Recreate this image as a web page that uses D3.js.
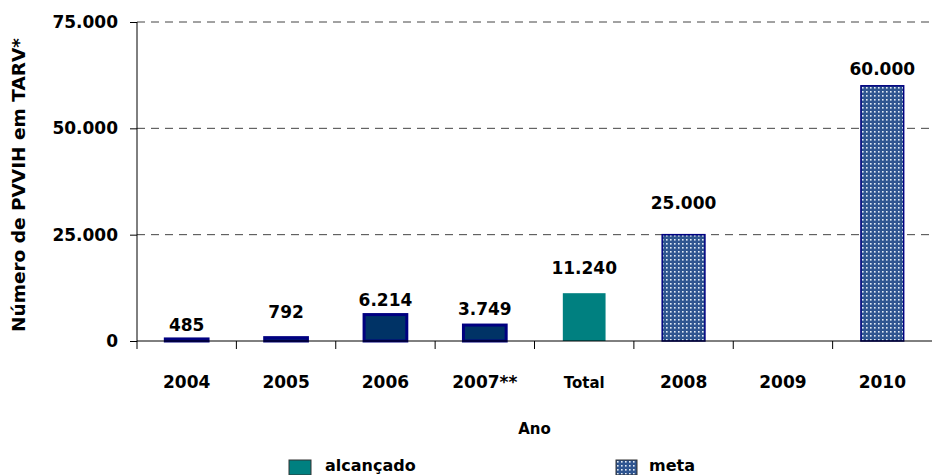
<!DOCTYPE html>
<html>
<head>
<meta charset="utf-8">
<script src="https://cdn.jsdelivr.net/npm/d3@7"></script>
<style>
body{margin:0;background:#fff;}
text{font-family:"Comic Sans MS","DejaVu Sans",sans-serif;font-weight:bold;fill:#000;}
</style>
</head>
<body>
<svg id="chart" width="934" height="475"></svg>
<script>
// dados
var categorias = ["2004","2005","2006","2007**","Total","2008","2009","2010"];
var valores    = [485, 792, 6214, 3749, 11240, 25000, null, 60000];
var tipo       = ["ano","ano","ano","ano","alcançado","meta","meta","meta"];
var rotulos    = ["485","792","6.214","3.749","11.240","25.000","","60.000"];
var yTicks     = [0, 25000, 50000, 75000];
var yTickLabels= ["0","25.000","50.000","75.000"];
var legenda    = ["alcançado","meta"];
// distancia do rotulo ate o topo da barra (como no excel)
var labelGap   = [8, 20, 9, 10, 19, 26, 0, 11];

var svg = d3.select("#chart");
var margin = {left:137, right:2, top:22, bottom:134};
var width = 934 - margin.left - margin.right;
var height = 475 - margin.top - margin.bottom;

var defs = svg.append("defs");
var pat = defs.append("pattern")
	.attr("id","pontos")
	.attr("patternUnits","userSpaceOnUse")
	.attr("width",4).attr("height",4);
pat.append("rect").attr("width",4).attr("height",4).attr("fill","#2f5590");
pat.append("rect").attr("x",1).attr("y",1).attr("width",1.6).attr("height",1.6).attr("fill","#e4ecf5");

var g = svg.append("g").attr("transform","translate("+margin.left+","+margin.top+")");

var x = d3.scaleBand().domain(categorias).range([0,width]).paddingInner(0.57).paddingOuter(0.285);
var xb = d3.scaleBand().domain(categorias).range([0,width]);
var y = d3.scaleLinear().domain([0,75000]).range([height,0]);

// grade tracejada
g.selectAll(".grid")
	.data(yTicks.filter(d=>d>0))
	.enter()
	.append("line")
	.attr("class","grid")
	.attr("x1",0).attr("x2",width-2)
	.attr("y1",d=>y(d)).attr("y2",d=>y(d))
	.style("stroke","#444")
	.style("stroke-dasharray","8,6")
	.style("stroke-width",1);

// eixo y
var yAxis = d3.axisLeft(y).tickValues(yTicks).tickSize(7).tickPadding(12)
	.tickFormat((d,i)=>yTickLabels[i]);
var gy = g.append("g").call(yAxis);
gy.select(".domain").attr("d","M0,"+(height+8)+"V0").style("stroke","#000");
gy.selectAll(".tick line").style("stroke","#000");
gy.selectAll(".tick text").style("font-size","17px").style("font-family",null);

// barras
function corBarra(i){
	if(tipo[i]=="alcançado") return "#008080";
	if(tipo[i]=="meta") return "url(#pontos)";
	return "#003366";
}
g.selectAll(".bar")
	.data(valores)
	.enter()
	.filter(d=>d!=null)
	.append("rect")
	.attr("class","bar")
	.attr("x",(d,i)=>x(categorias[valores.indexOf(d)]))
	.attr("y",d=>y(d))
	.attr("width",x.bandwidth())
	.attr("height",d=>height-y(d))
	.style("fill",d=>corBarra(valores.indexOf(d)))
	.style("stroke",d=>{
		let t = tipo[valores.indexOf(d)];
		return t=="alcançado" ? "none" : "#000080";
	})
	.style("stroke-width",d=>tipo[valores.indexOf(d)]=="ano" ? 3 : 1.5);

// rotulos de dados
g.selectAll(".rotulo")
	.data(valores)
	.enter()
	.filter(d=>d!=null)
	.append("text")
	.attr("class","rotulo")
	.attr("x",d=>x(categorias[valores.indexOf(d)])+x.bandwidth()/2)
	.attr("y",d=>y(d)-labelGap[valores.indexOf(d)])
	.attr("text-anchor","middle")
	.style("font-size","17px")
	.text(d=>rotulos[valores.indexOf(d)]);

// eixo x
var gx = g.append("g").attr("transform","translate(0,"+height+")");
gx.append("line").attr("x1",0).attr("x2",width).style("stroke","#000");
gx.selectAll(".tk")
	.data(categorias.slice(1))
	.enter()
	.append("line")
	.attr("x1",d=>xb(d)).attr("x2",d=>xb(d))
	.attr("y1",0).attr("y2",8)
	.style("stroke","#000");
gx.selectAll(".cat")
	.data(categorias)
	.enter()
	.append("text")
	.attr("x",d=>xb(d)+xb.bandwidth()/2)
	.attr("y",47)
	.attr("text-anchor","middle")
	.style("font-size",d=>d=="Total"?"15px":"17px")
	.text(d=>d);

// titulos
svg.append("text")
	.attr("x",margin.left+width/2)
	.attr("y",434)
	.attr("text-anchor","middle")
	.style("font-size","15px")
	.text("Ano");
svg.append("text")
	.attr("transform","translate(25,185) rotate(-90)")
	.attr("text-anchor","middle")
	.style("font-size","18.5px")
	.text("Número de PVVIH em TARV*");

// legenda
var legX = [289, 616];
var leg = svg.selectAll(".leg")
	.data(legenda)
	.enter()
	.append("g")
	.attr("transform",(d,i)=>"translate("+legX[i]+",460)");
leg.append("rect")
	.attr("width",(d,i)=>i==0?22:21)
	.attr("height",15)
	.style("fill",(d,i)=>i==0?"#008080":"url(#pontos)")
	.style("stroke","#333")
	.style("stroke-width",1);
leg.append("text")
	.attr("x",(d,i)=>i==0?36:33)
	.attr("y",11)
	.style("font-size","16px")
	.text(d=>d);
</script>
</body>
</html>
